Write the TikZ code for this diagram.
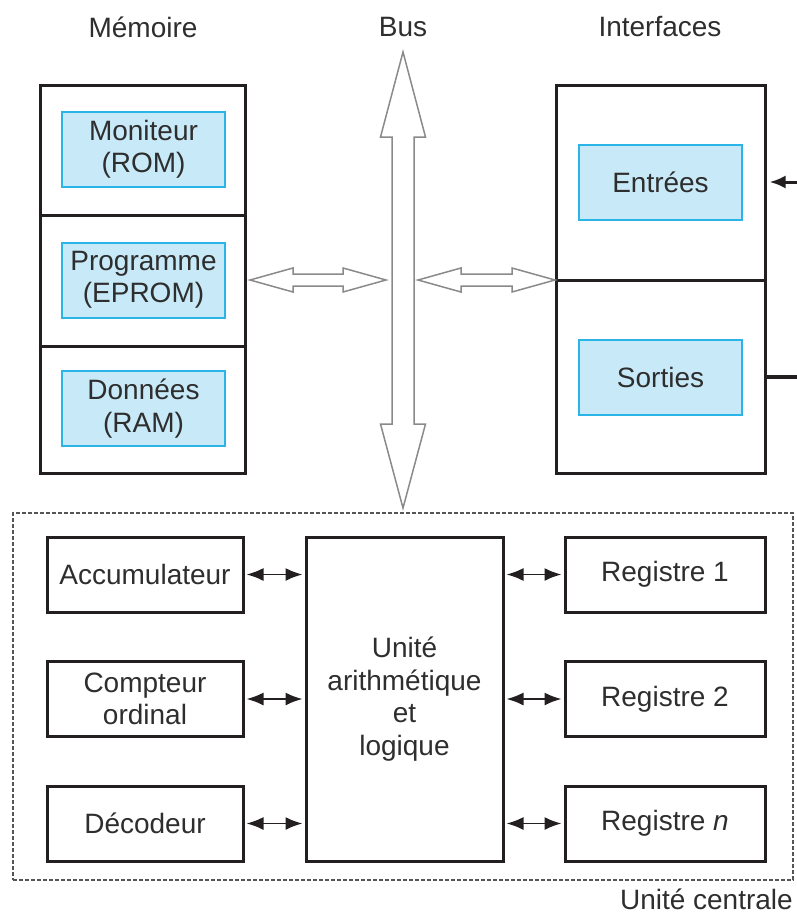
\documentclass[tikz,border=0pt]{standalone}
\usepackage{fontspec}
\setmainfont{Liberation Sans}
\usetikzlibrary{arrows.meta,calc}

\definecolor{ink}{HTML}{231F20}
\definecolor{txtgray}{HTML}{2E2E2E}
\definecolor{bluefill}{HTML}{C8EAF8}
\definecolor{blueline}{HTML}{2AB4E8}
\definecolor{busgray}{HTML}{8A8A8A}
\definecolor{dashgray}{HTML}{555555}

\begin{document}
\begin{tikzpicture}[x=1pt,y=-1pt,
  lbl/.style={text=txtgray, font=\fontsize{28}{32.5}\selectfont, align=center},
  frame/.style={draw=ink, line width=3pt, inner sep=0pt},
  mod/.style={lbl, draw=blueline, fill=bluefill, line width=2pt,
              minimum width=163pt, minimum height=75pt, inner sep=0pt},
  unit/.style={lbl, draw=ink, line width=3pt, minimum width=196pt, minimum height=75pt, inner sep=0pt},
  reg/.style={lbl, draw=ink, line width=3pt, minimum width=200pt, minimum height=75pt, inner sep=0pt},
  fat/.style={draw=busgray, line width=1.5pt, fill=white, line join=miter},
  link/.style={draw=ink, line width=1.8pt, {Latex[length=17pt,width=13pt]}-{Latex[length=17pt,width=13pt]},
               shorten <=2pt, shorten >=2pt}
]
\useasboundingbox (0,0) rectangle (797,916);

% column titles
\node[lbl] (tmem) at (143,27) {Mémoire};
\node[lbl] (tbus) at (403,27) {Bus};
\node[lbl] (tint) at (660,27) {Interfaces};

% memory block
\node[frame, minimum width=205pt, minimum height=388pt] (mem) at (142.5,279) {};
\node[mod] (mon)  at (143.5,149.5) {Moniteur\\(ROM)};
\node[mod] (prog) at (143.5,280)   {Programme\\(EPROM)};
\node[mod] (ram)  at (143.5,408.5) {Données\\(RAM)};
\draw[ink, line width=3pt] (mem.west |- 0,215) -- (mem.east |- 0,215);
\draw[ink, line width=3pt] (mem.west |- 0,346) -- (mem.east |- 0,346);

% interface block
\node[frame, minimum width=209pt, minimum height=388pt] (intf) at (660.5,279) {};
\node[mod] (in)  at (660.5,182.5) {Entrées};
\node[mod] (out) at (660.5,377)   {Sorties};
\draw[ink, line width=3pt] (intf.west |- 0,280) -- (intf.east |- 0,280);

% external lines
\coordinate (inE)  at (797,182);
\coordinate (outS) at (797,377);
\draw[ink, line width=3pt, -{Latex[length=16pt,width=13pt]}] (inE) -- ([xshift=3pt]intf.east |- inE);
\draw[ink, line width=4pt] (intf.east |- outS) -- (outS);

% system bus
\coordinate (bustop) at (403,52);
\draw[fat] (bustop) -- ++(22.5,85) -- ++(-11.5,0) -- ++(0,287) -- ++(11.5,0)
  -- ++(-22.5,84) -- ++(-22.5,-84) -- ++(11.5,0) -- ++(0,-287) -- ++(-11.5,0) -- cycle;

% memory <-> bus
\coordinate (lm) at (250,280);
\draw[fat] (lm) -- ++(43,-12) -- ++(0,6) -- ++(50,0) -- ++(0,-6) -- ++(43,12)
  -- ++(-43,12) -- ++(0,-6) -- ++(-50,0) -- ++(0,6) -- cycle;
% bus <-> interfaces
\coordinate (li) at (418,280);
\draw[fat] (li) -- ++(43,-12) -- ++(0,6) -- ++(51,0) -- ++(0,-6) -- ++(43,12)
  -- ++(-43,12) -- ++(0,-6) -- ++(-51,0) -- ++(0,6) -- cycle;

% central unit
\node[draw=dashgray, line width=1.2pt, dash pattern=on 4pt off 2pt,
      minimum width=780pt, minimum height=367pt, inner sep=0pt] (cpu) at (403,696.5) {};
\node[lbl, anchor=base east, inner sep=0pt] (tcpu) at (793,909) {Unité centrale};

\node[unit] (acc) at (145,574.5) {Accumulateur};
\node[unit] (pc)  at (145,699)   {Compteur\\ordinal};
\node[unit] (dec) at (145,823.5) {Décodeur};

\node[lbl, draw=ink, line width=3pt, minimum width=197pt, minimum height=324pt, inner sep=0pt]
  (alu) at (404.5,699) {Unité\\arithmétique\\et\\logique};

\node[reg] (r1) at (665,574.5) {Registre 1};
\node[reg] (r2) at (665,699)   {Registre 2};
\node[reg] (rn) at (665,823.5) {Registre \textit{n}};

\draw[link] (acc.east) -- (alu.west |- acc.east);
\draw[link] (pc.east)  -- (alu.west |- pc.east);
\draw[link] (dec.east) -- (alu.west |- dec.east);
\draw[link] (alu.east |- r1.west) -- (r1.west);
\draw[link] (alu.east |- r2.west) -- (r2.west);
\draw[link] (alu.east |- rn.west) -- (rn.west);
\end{tikzpicture}
\end{document}
